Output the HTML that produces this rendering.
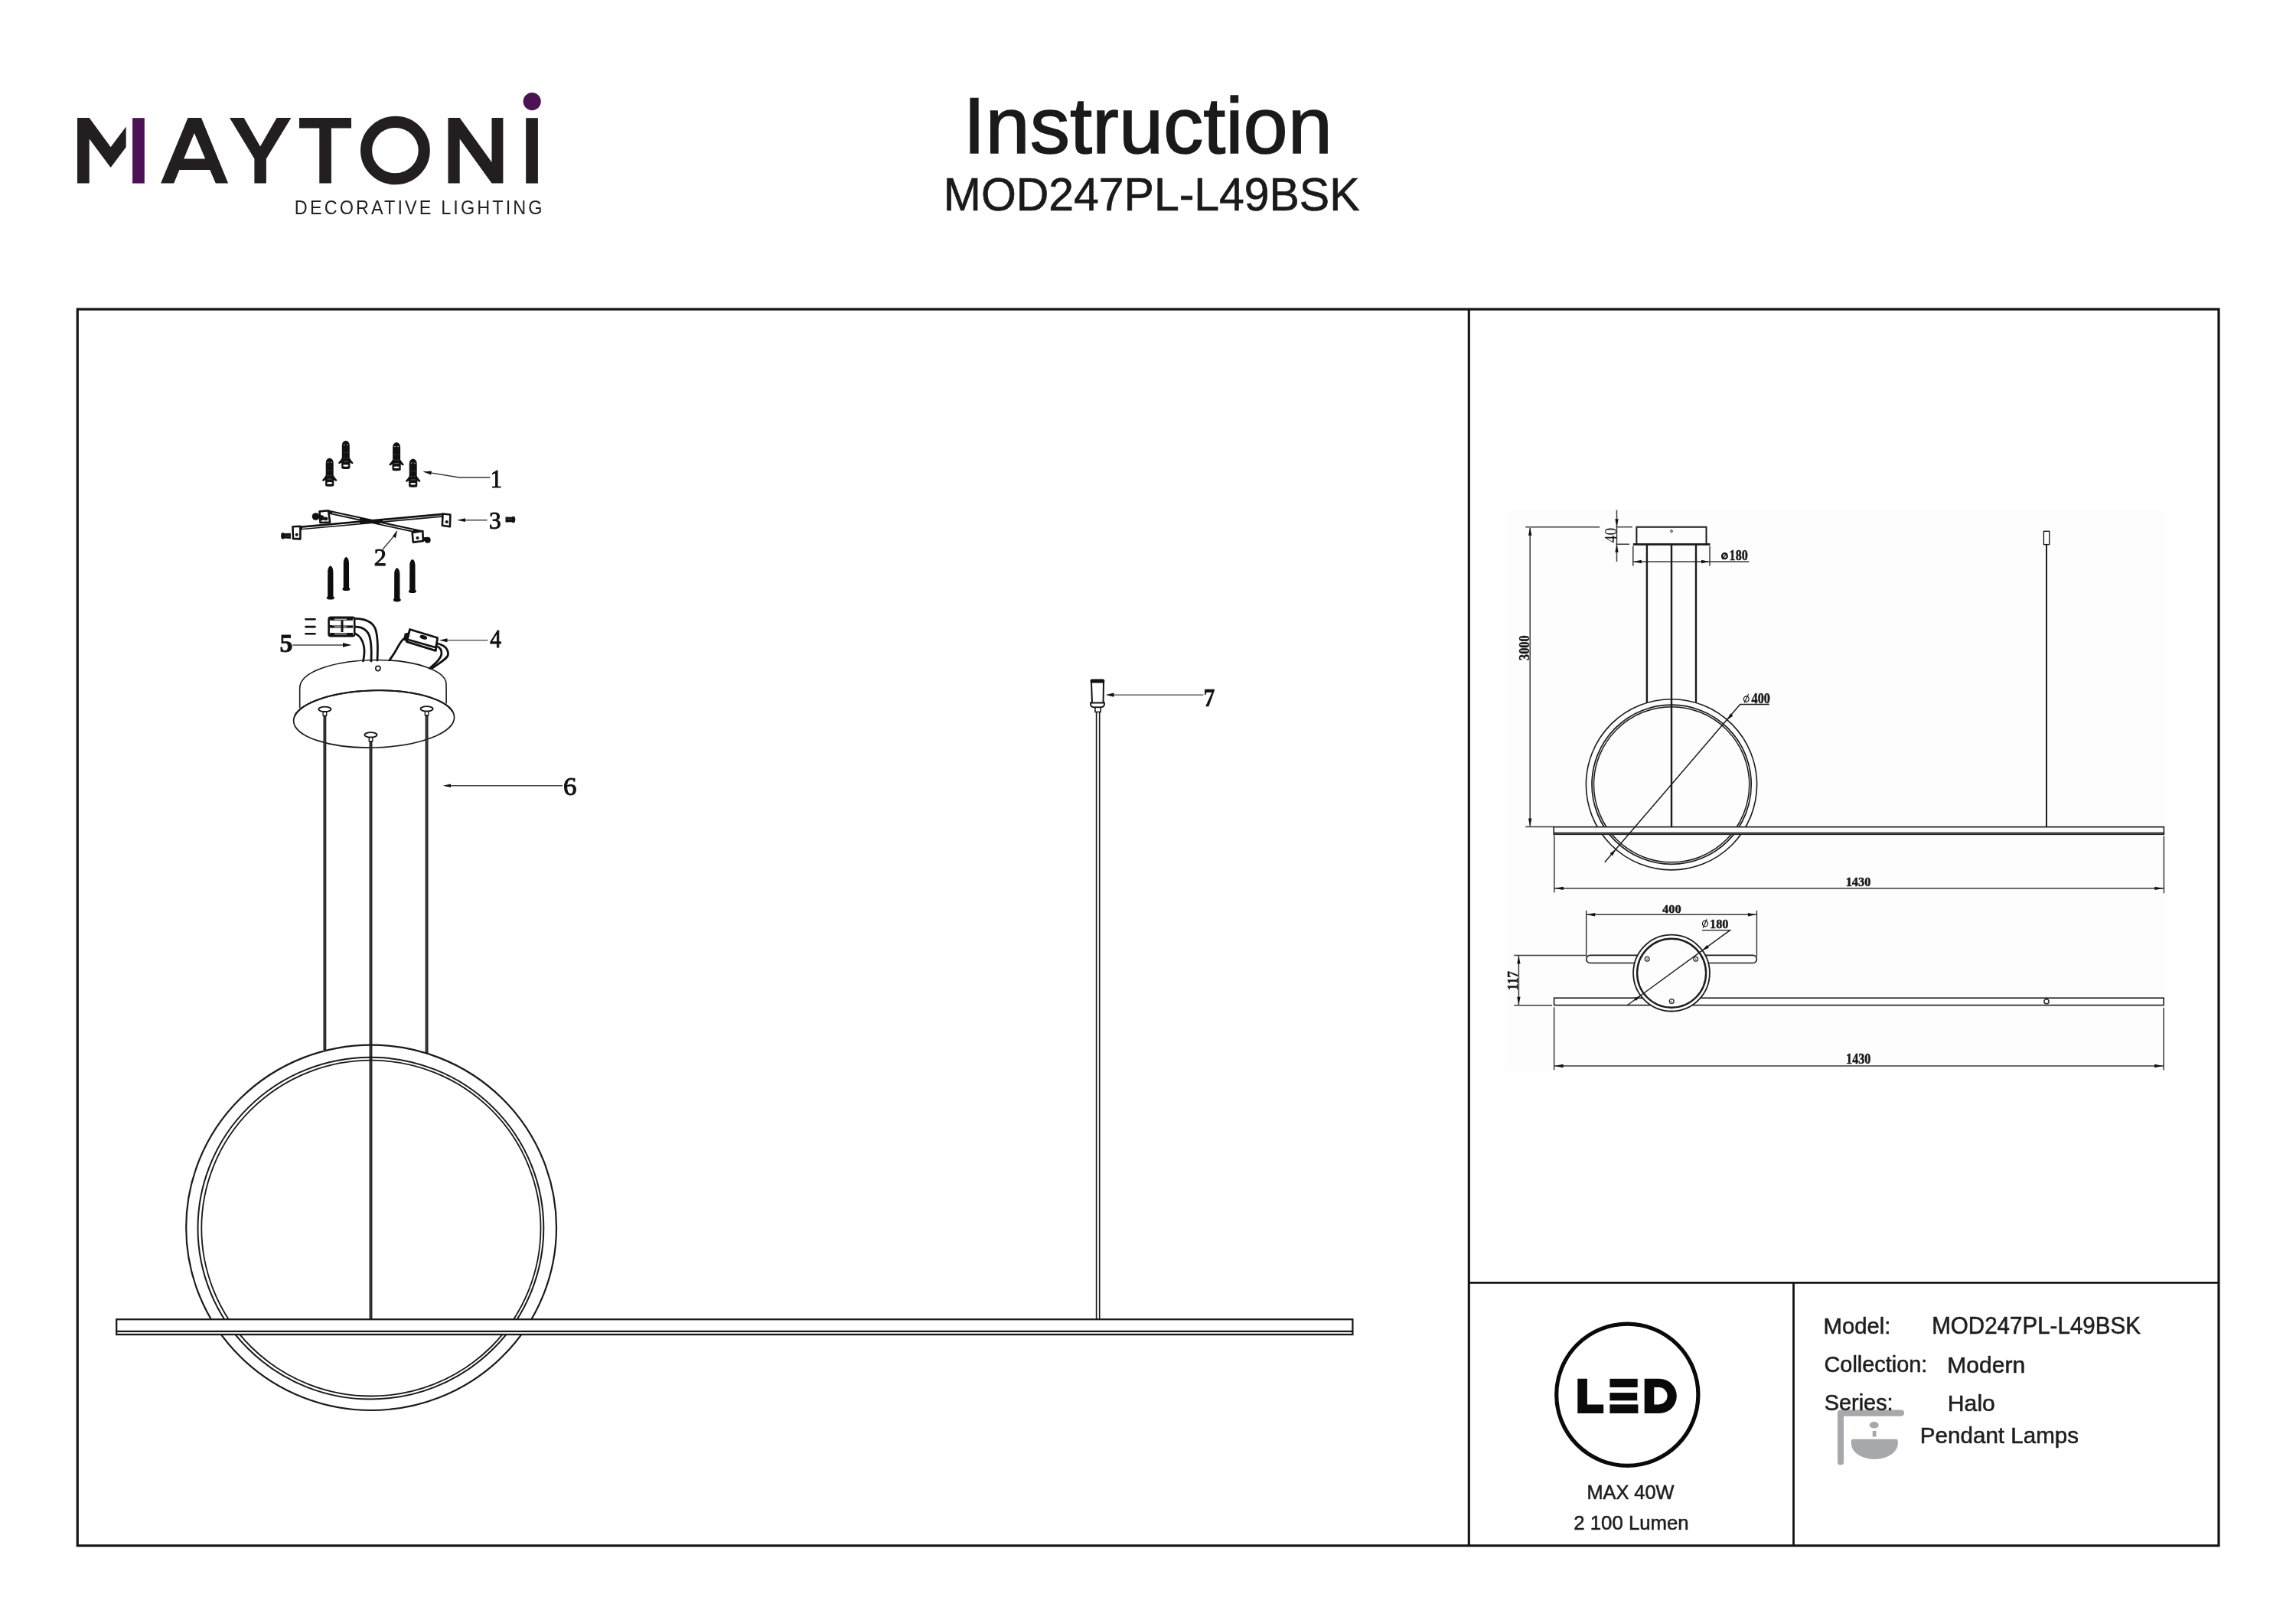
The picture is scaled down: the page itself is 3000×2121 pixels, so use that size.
<!DOCTYPE html>
<html><head><meta charset="utf-8"><title>Instruction MOD247PL-L49BSK</title>
<style>html,body{margin:0;padding:0;background:#fff;width:3000px;height:2121px;overflow:hidden}
svg{display:block;font-family:"Liberation Sans",sans-serif;will-change:transform}</style></head>
<body><svg width="3000" height="2121" viewBox="0 0 3000 2121">
<rect width="3000" height="2121" fill="#ffffff"/>
<g id="logo">
<polygon points="101.0,153.9 116.7,153.9 144.6,192.3 164.7,165.6 164.7,192.3 144.6,219.0 116.7,181.6 116.7,239.6 101.0,239.6" fill="#231f20"/>
<rect x="173.1" y="154.2" width="15.7" height="85.4" fill="#4b1254"/>
<path d="M210.1,239.6 L245.5,153.9 L263.0,153.9 L298.1,239.6 L281.8,239.6 L274.3,222 L234.4,222 L227.2,239.6 Z M253.9,174 L268.2,207.6 L240.2,207.6 Z" fill="#231f20" fill-rule="evenodd"/>
<polygon points="300.0,153.9 318.7,153.9 340.0,191.6 361.6,153.9 380.4,153.9 347.9,207.6 347.9,239.6 332.4,239.6 332.4,207.6" fill="#231f20"/>
<polygon points="391.0,153.9 459.0,153.9 459.0,167.6 432.9,167.6 432.9,239.6 417.3,239.6 417.3,167.6 391.0,167.6" fill="#231f20"/>
<ellipse cx="516.4" cy="196.6" rx="37.85" ry="37.2" fill="none" stroke="#231f20" stroke-width="15.1"/>
<polygon points="585.5,153.9 600.7,153.9 642.5,212.1 642.5,153.9 657.4,153.9 657.4,239.6 642.5,239.6 600.7,181.6 600.7,239.6 585.5,239.6" fill="#231f20"/>
<rect x="687.2" y="154.2" width="15.7" height="85.4" fill="#231f20"/>
<circle cx="695.2" cy="132.6" r="11.6" fill="#4b1254"/>
<text transform="scale(0.94,1)" x="409.44" y="279.7" font-family="Liberation Sans" font-size="25.00" textLength="344.45" lengthAdjust="spacing" fill="#231f20">DECORATIVE LIGHTING</text>
</g>
<text x="1258.55" y="200.30" font-family="Liberation Sans" font-weight="normal" font-size="103.63" textLength="482.34" lengthAdjust="spacingAndGlyphs" fill="#1a1a1a" stroke="#1a1a1a" stroke-width="1.5" stroke-linejoin="miter">Instruction</text>
<text x="1232.87" y="274.80" font-family="Liberation Sans" font-weight="normal" font-size="61.34" textLength="543.59" lengthAdjust="spacingAndGlyphs" fill="#1a1a1a" stroke="#1a1a1a" stroke-width="0.7">MOD247PL-L49BSK</text>
<rect x="101.25" y="404.1" width="2797.75" height="1615.85" fill="none" stroke="#141414" stroke-width="3.2"/>
<line x1="1919.3" y1="404" x2="1919.3" y2="2020" stroke="#141414" stroke-width="3.1"/>
<line x1="1919" y1="1676.4" x2="2899" y2="1676.4" stroke="#141414" stroke-width="2.8"/>
<line x1="2343.5" y1="1676.4" x2="2343.5" y2="2020" stroke="#141414" stroke-width="2.8"/>
<defs>
<g id="plug">
  <path d="M-5,7 C-5,2 -2.8,0 0,0 C2.8,0 5,2 5,7 L5,27 L-5,27 Z" fill="#111"/>
  <path d="M-5,22.5 C-6.5,25 -8.5,27 -9.5,28.5 C-9.8,29.6 -9,30.4 -8,30 L-5.5,28.6 L5.5,28.6 L8,30 C9,30.4 9.8,29.6 9.5,28.5 C8.5,27 6.5,25 5,22.5 Z" fill="#111"/>
  <path d="M-5.6,28 L5.6,28 L5.6,35.8 C5.6,37.6 -5.6,37.6 -5.6,35.8 Z" fill="#111"/>
  <ellipse cx="0" cy="32.6" rx="3.6" ry="1.3" fill="#fff"/>
  <rect x="-3" y="5" width="1.8" height="0.9" fill="#ccc"/><rect x="1.2" y="5" width="1.8" height="0.9" fill="#ccc"/>
  <rect x="-3" y="15.5" width="1.8" height="0.7" fill="#777"/><rect x="1.2" y="15.5" width="1.8" height="0.7" fill="#777"/>
  <rect x="-3" y="22.5" width="1.8" height="0.7" fill="#777"/><rect x="1.2" y="22.5" width="1.8" height="0.7" fill="#777"/>
  <rect x="-3" y="27" width="6" height="0.6" fill="#999"/>
</g>
<g id="screw">
  <path d="M-3.6,8 C-3.6,3 -1.5,0 0,0 C1.5,0 3.6,3 3.6,8 L3.7,40.5 L-3.7,40.5 Z" fill="#0d0d0d"/>
  <ellipse cx="0" cy="41.8" rx="5" ry="2.3" fill="#0d0d0d"/>
</g>
<g id="bolt">
  <path d="M0,-3.6 L9,-3.2 L9,3.2 L0,3.6 Z" fill="#111"/>
  <ellipse cx="10.2" cy="0" rx="2.6" ry="4.2" fill="#111"/>
  <rect x="1" y="-0.6" width="7" height="0.5" fill="#777"/>
</g>
<marker id="ah" viewBox="0 0 10 6" refX="0" refY="3" markerWidth="10" markerHeight="6" markerUnits="userSpaceOnUse" orient="auto-start-reverse">
  <path d="M0,3 L10,0 L10,6 Z" fill="#111"/>
</marker>
</defs>
<use href="#plug" x="430.7" y="598.7"/>
<use href="#plug" x="451.8" y="575.9"/>
<use href="#plug" x="518.1" y="578.2"/>
<use href="#plug" x="539.7" y="599.7"/>
<path d="M553.5,616.4 L600,624 L640.4,624" fill="none" stroke="#333" stroke-width="1.4"/>
<path d="M553.5,616.4 L564,615.6 L563,620.6 Z" fill="#111"/>
<path d="M383,688.3 L579,670.6 L579,675.8 L392.4,692.6 Z" fill="#111"/>
<path d="M395,690.3 L470,683.5" stroke="#fff" stroke-width="1.0"/>
<path d="M500,680.8 L577,673.8" stroke="#fff" stroke-width="0.9" opacity="0.85"/>
<path d="M429,666.6 L552.3,693.2 L552.5,698.4 L431,672 Z" fill="#111"/>
<path d="M434,670.3 L470,678" stroke="#fff" stroke-width="1.1"/>
<path d="M496,684 L540,693.3" stroke="#fff" stroke-width="1"/>
<polygon points="417.5,668.4 429,667.3 431.1,682.5 418.5,683" fill="#fff" stroke="#111" stroke-width="2.6" stroke-linejoin="round"/>
<circle cx="423.8" cy="677.8" r="2" fill="#111"/>
<polygon points="538.7,696 552.3,694 552.9,707 539.8,708.6" fill="#fff" stroke="#111" stroke-width="2.6" stroke-linejoin="round"/>
<circle cx="545.5" cy="702.9" r="2" fill="#111"/>
<polygon points="382.5,688.2 392.4,687.7 392.4,704.4 383,703.9" fill="#fff" stroke="#111" stroke-width="2.6" stroke-linejoin="round"/>
<circle cx="387.7" cy="698.7" r="2" fill="#111"/>
<polygon points="578.5,671.5 588.4,672.5 587.9,688.2 577.9,686.7" fill="#fff" stroke="#111" stroke-width="2.6" stroke-linejoin="round"/>
<circle cx="583.7" cy="682" r="2" fill="#111"/>
<g transform="translate(379.9,700.3) rotate(180)"><use href="#bolt"/></g>
<g transform="translate(660.5,679) "><use href="#bolt"/></g>
<circle cx="412.5" cy="675" r="4.8" fill="#111"/><circle cx="420" cy="676.8" r="3.5" fill="#111"/><circle cx="426" cy="678" r="2.4" fill="#111"/>
<circle cx="558.7" cy="705.7" r="4" fill="#111"/><circle cx="555" cy="704.5" r="2.6" fill="#111"/>
<path d="M500,718 L516,699" stroke="#333" stroke-width="1.3"/>
<path d="M519.4,695.6 L513.2,703.6 L516.9,706.2 Z" fill="#111" transform="translate(0,-3)"/>
<path d="M607,679.7 L636.6,679.7" stroke="#333" stroke-width="1.4"/>
<path d="M597,679.7 L608,677.3 L608,682.1 Z" fill="#111"/>
<use href="#screw" x="431.8" y="739.5"/>
<use href="#screw" x="452.4" y="727.9"/>
<use href="#screw" x="518.8" y="742.3"/>
<use href="#screw" x="538.9" y="731"/>
<rect x="429.6" y="806.8" width="33.6" height="24.4" rx="2.5" fill="#fff" stroke="#111" stroke-width="2.6"/>
<rect x="433" y="807.6" width="28" height="3.2" fill="#111"/><rect x="437" y="808.7" width="16" height="1" fill="#fff"/>
<rect x="433" y="817.4" width="28" height="3.2" fill="#111"/><rect x="437" y="818.5" width="16" height="1" fill="#fff"/>
<rect x="433" y="827.0" width="28" height="3.2" fill="#111"/><rect x="437" y="828.1" width="16" height="1" fill="#fff"/>
<rect x="445.5" y="811" width="3" height="15" fill="#111"/>
<circle cx="432.6" cy="809.2" r="1.8" fill="#111"/><circle cx="432.6" cy="828.6" r="1.8" fill="#111"/>
<circle cx="432.2" cy="818.8" r="2" fill="#111"/>
<line x1="399.5" y1="809.2" x2="411.5" y2="809.2" stroke="#111" stroke-width="2.6" stroke-linecap="round"/>
<line x1="399.5" y1="819.1" x2="411.5" y2="819.1" stroke="#111" stroke-width="2.6" stroke-linecap="round"/>
<line x1="399.5" y1="828.2" x2="411.5" y2="828.2" stroke="#111" stroke-width="2.6" stroke-linecap="round"/>
<path d="M464,808.3 C478,808.6 487,812.5 490.5,822 C494,832 493.8,848 493,863" fill="none" stroke="#111" stroke-width="2.8" stroke-linecap="round"/>
<path d="M464,819.1 C474,819 480,823 483,832 C486,842 485.5,852 485,864" fill="none" stroke="#111" stroke-width="2.8" stroke-linecap="round"/>
<path d="M464,828 C470,830.5 474,836 475.5,845 C477,853 475.8,858 474.5,864" fill="none" stroke="#111" stroke-width="2.8" stroke-linecap="round"/>
<path d="M382.5,842.9 L449,842.9" stroke="#444" stroke-width="1.5"/>
<path d="M459.5,842.9 L448,840 L448,845.8 Z" fill="#111"/>
<path d="M535.5,822.5 L571.6,833.5 L569.3,850.4 L531.4,838.6 Z" fill="#fff" stroke="#111" stroke-width="2.8" stroke-linejoin="round"/>
<path d="M533.5,836 L570.5,846.5" stroke="#111" stroke-width="2.6"/>
<path d="M528.5,828 L535.5,826 L533,838.5 L527.5,837 Z" fill="#111"/>
<ellipse cx="553.3" cy="832.8" rx="5" ry="2.6" fill="#111" transform="rotate(17 553.3 832.8)"/>
<path d="M528.2,834 C523,838 520,846 515.5,853 C512.5,858 510,861 508.8,862.8" fill="none" stroke="#111" stroke-width="2.8" stroke-linecap="round" stroke-width="2.4"/>
<path d="M571.5,841 C580,843 585.5,848 585.5,855 C585.5,860 575,866 564,873.7" fill="none" stroke="#111" stroke-width="2.8" stroke-linecap="round" stroke-width="2.4"/>
<path d="M569.8,844 C575,846 577.5,850 576.8,855 C576,861 568,868 561.5,873.3" fill="none" stroke="#111" stroke-width="2.8" stroke-linecap="round" stroke-width="2.4"/>
<path d="M583,836.6 L637.5,836.6" stroke="#444" stroke-width="1.4"/>
<path d="M573.9,836.7 L584.5,834.2 L584.5,839.2 Z" fill="#111"/>
<path d="M391.7,925.3 L391.7,899.1 C391.7,877 440,862.5 493.3,862.5 C543,862.5 583,876.5 583,893.9 L583.2,919.5" fill="none" stroke="#1a1a1a" stroke-width="1.6"/>
<circle cx="493.9" cy="873.5" r="3.1" fill="none" stroke="#1a1a1a" stroke-width="1.6"/>
<ellipse cx="488.6" cy="939.65" rx="105" ry="37.35" transform="rotate(-1.4 488.6 939.65)" fill="#fff" stroke="#1a1a1a" stroke-width="1.7"/>
<polyline points="385.7,934.4 386.8,932.7 388.1,931.1 389.5,929.4 391.2,927.8 393.1,926.2 395.2,924.6 397.4,923.1 399.9,921.6 402.5,920.1 405.3,918.7 408.3,917.3 411.5,916.0 414.8,914.7 418.2,913.4 421.8,912.2 425.6,911.1 429.4,910.0 433.4,909.0 437.6,908.1 441.8,907.2 446.1,906.4 450.5,905.7 454.9,905.0 459.5,904.4 464.1,903.8 468.8,903.4 473.5,903.0 478.2,902.7 482.9,902.5 487.7,902.3 492.5,902.2 497.2,902.2 501.9,902.3 506.7,902.5 511.3,902.7 515.9,903.0 520.5,903.4 525.0,903.8 529.5,904.4 533.8,905.0 538.0,905.6 542.2,906.4 546.2,907.2 550.2,908.1 553.9,909.0 557.6,910.0 561.1,911.1 564.5,912.2 567.7,913.4 570.8,914.6 573.6,915.9 576.3,917.3 578.9,918.7 581.2,920.1 583.3,921.5 585.3,923.0 587.1,924.6 588.6,926.2 589.9,927.8 591.1,929.4" fill="none" stroke="#1a1a1a" stroke-width="2.1" stroke-linecap="round"/>
<line x1="424.4" y1="934.8" x2="424.4" y2="1372" stroke="#161616" stroke-width="3.8"/>
<line x1="424.59999999999997" y1="936.8" x2="424.59999999999997" y2="1371" stroke="#5a5a5a" stroke-width="1.0"/>
<rect x="422.09999999999997" y="929.8" width="4.6" height="5.5" fill="#fff" stroke="#111" stroke-width="1.3"/>
<ellipse cx="424.4" cy="926.8" rx="8.2" ry="3.2" fill="#fff" stroke="#111" stroke-width="1.8"/>
<line x1="484.5" y1="968.3" x2="484.5" y2="1723.9" stroke="#161616" stroke-width="3.8"/>
<line x1="484.7" y1="970.3" x2="484.7" y2="1722.9" stroke="#5a5a5a" stroke-width="1.0"/>
<rect x="482.2" y="963.3" width="4.6" height="5.5" fill="#fff" stroke="#111" stroke-width="1.3"/>
<ellipse cx="484.5" cy="960.3" rx="8.2" ry="3.2" fill="#fff" stroke="#111" stroke-width="1.8"/>
<line x1="557.6" y1="934.3" x2="557.6" y2="1375.9" stroke="#161616" stroke-width="3.8"/>
<line x1="557.8000000000001" y1="936.3" x2="557.8000000000001" y2="1374.9" stroke="#5a5a5a" stroke-width="1.0"/>
<rect x="555.3000000000001" y="929.3" width="4.6" height="5.5" fill="#fff" stroke="#111" stroke-width="1.3"/>
<ellipse cx="557.6" cy="926.3" rx="8.2" ry="3.2" fill="#fff" stroke="#111" stroke-width="1.8"/>
<path d="M586,1026.7 L735.2,1026.7" stroke="#444" stroke-width="1.5"/>
<path d="M578.7,1026.7 L589,1024.4 L589,1029 Z" fill="#111"/>
<rect x="1432.6" y="930" width="4.1" height="794" fill="#fff" stroke="#161616" stroke-width="1.6"/>
<path d="M1426,891 L1442,891 L1441.5,919 L1427,919 Z" fill="#fff" stroke="#111" stroke-width="2"/>
<rect x="1424.4" y="887.4" width="19" height="5" rx="2.5" fill="#111"/>
<path d="M1425,918.5 L1443,918.5 C1443.5,922.5 1441,924 1439,924.3 L1429,924.3 C1427,924 1424.5,922.5 1425,918.5 Z" fill="#fff" stroke="#111" stroke-width="1.8"/>
<rect x="1431" y="924.4" width="7.2" height="6" fill="#fff" stroke="#111" stroke-width="1.5"/>
<path d="M1453,908.1 L1572.5,908.1" stroke="#444" stroke-width="1.4"/>
<path d="M1444.6,908.1 L1455.5,905.5 L1455.5,910.7 Z" fill="#111"/>
<ellipse cx="485.1" cy="1604.3" rx="241.9" ry="238.7" fill="none" stroke="#1a1a1a" stroke-width="2.2"/>
<ellipse cx="484.4" cy="1605.1" rx="225.9" ry="223.4" fill="none" stroke="#1a1a1a" stroke-width="2.0"/>
<ellipse cx="484.9" cy="1605.1" rx="221.6" ry="219.4" fill="none" stroke="#1a1a1a" stroke-width="1.8"/>
<rect x="152.2" y="1724.2" width="1615.2" height="19.8" fill="#fff" stroke="#1a1a1a" stroke-width="2.3"/>
<line x1="152.2" y1="1739.9" x2="1767.4" y2="1739.9" stroke="#1a1a1a" stroke-width="2.2"/>
<text x="640.73" y="637.00" font-family="Liberation Serif" font-weight="normal" font-size="33.48" textLength="15.20" lengthAdjust="spacingAndGlyphs" fill="#111" stroke="#111" stroke-width="1.0">1</text>
<text x="638.89" y="691.00" font-family="Liberation Serif" font-weight="normal" font-size="32.02" textLength="15.74" lengthAdjust="spacingAndGlyphs" fill="#111" stroke="#111" stroke-width="1.0">3</text>
<text x="488.77" y="739.00" font-family="Liberation Serif" font-weight="normal" font-size="30.96" textLength="16.21" lengthAdjust="spacingAndGlyphs" fill="#111" stroke="#111" stroke-width="1.0">2</text>
<text x="640.13" y="845.70" font-family="Liberation Serif" font-weight="normal" font-size="32.97" textLength="14.63" lengthAdjust="spacingAndGlyphs" fill="#111" stroke="#111" stroke-width="1.0">4</text>
<text x="365.44" y="852.10" font-family="Liberation Serif" font-weight="bold" font-size="34.21" textLength="17.01" lengthAdjust="spacingAndGlyphs" fill="#111" stroke="#111" stroke-width="0.8">5</text>
<text x="736.10" y="1039.40" font-family="Liberation Serif" font-weight="normal" font-size="33.83" textLength="17.44" lengthAdjust="spacingAndGlyphs" fill="#111" stroke="#111" stroke-width="1.0">6</text>
<text x="1572.49" y="922.90" font-family="Liberation Serif" font-weight="bold" font-size="32.99" textLength="14.94" lengthAdjust="spacingAndGlyphs" fill="#111" stroke="#111" stroke-width="0.6">7</text>
<rect x="1968" y="666" width="861" height="733" fill="#fdfdfd"/>
<line x1="1993.3" y1="688.7" x2="2090.3" y2="688.7" stroke="#3a3a3a" stroke-width="1.5"/>
<line x1="1993.3" y1="1080.6" x2="2030.2" y2="1080.6" stroke="#3a3a3a" stroke-width="1.5"/>
<line x1="1999.2" y1="690" x2="1999.2" y2="1079.5" stroke="#3a3a3a" stroke-width="1.5"/>
<path d="M1999.20,689.20 L2001.40,699.70 L1997.00,699.70 Z" fill="#111"/>
<path d="M1999.20,1080.10 L1997.00,1069.60 L2001.40,1069.60 Z" fill="#111"/>
<g transform="translate(1991.50,846.70) rotate(-90)"><text x="-16.31" y="6.50" font-family="Liberation Serif" font-weight="bold" font-size="19.55" textLength="32.63" lengthAdjust="spacingAndGlyphs" fill="#111" stroke="#111" stroke-width="0.45">3000</text></g>
<line x1="2112.5" y1="666.5" x2="2112.5" y2="734" stroke="#3a3a3a" stroke-width="1.5"/>
<path d="M2112.50,688.70 L2110.30,678.20 L2114.70,678.20 Z" fill="#111"/>
<path d="M2112.50,711.20 L2114.70,721.70 L2110.30,721.70 Z" fill="#111"/>
<line x1="2111.6" y1="688.7" x2="2132.8" y2="688.7" stroke="#3a3a3a" stroke-width="1.5"/>
<line x1="2111.6" y1="711.2" x2="2129" y2="711.2" stroke="#3a3a3a" stroke-width="1.5"/>
<g transform="translate(2104.20,699.75) rotate(-90)"><text x="-9.63" y="7.40" font-family="Liberation Serif" font-weight="normal" font-size="22.25" textLength="19.63" lengthAdjust="spacingAndGlyphs" fill="#111">40</text></g>
<path d="M2138.4,711.2 L2138.4,688.7 L2229.5,688.7 L2229.5,711.2" fill="none" stroke="#1c1c1c" stroke-width="2"/>
<line x1="2133.8" y1="711.4" x2="2234.5" y2="711.4" stroke="#1c1c1c" stroke-width="2.6"/>
<circle cx="2184" cy="694.2" r="1.4" fill="none" stroke="#1c1c1c" stroke-width="1"/>
<line x1="2133.8" y1="713.6" x2="2133.8" y2="739.5" stroke="#3a3a3a" stroke-width="1.5"/>
<line x1="2234" y1="713.6" x2="2234" y2="739.5" stroke="#3a3a3a" stroke-width="1.5"/>
<line x1="2133.8" y1="734" x2="2285.3" y2="734" stroke="#3a3a3a" stroke-width="1.5"/>
<path d="M2134.30,734.00 L2144.80,731.80 L2144.80,736.20 Z" fill="#111"/>
<path d="M2233.50,734.00 L2223.00,736.20 L2223.00,731.80 Z" fill="#111"/>
<ellipse cx="2253.4" cy="726.7" rx="3.4" ry="3.5" fill="none" stroke="#111" stroke-width="2.2"/><line x1="2250" y1="730.5" x2="2256.5" y2="723" stroke="#111" stroke-width="1.2"/>
<text x="2259.61" y="731.70" font-family="Liberation Serif" font-weight="bold" font-size="18.50" textLength="24.10" lengthAdjust="spacingAndGlyphs" fill="#1a1a1a" stroke="#111" stroke-width="0.45">180</text>
<line x1="2151.9" y1="712" x2="2151.9" y2="918" stroke="#1c1c1c" stroke-width="2.4"/>
<line x1="2216" y1="712" x2="2216" y2="918" stroke="#1c1c1c" stroke-width="2.4"/>
<line x1="2184" y1="712" x2="2184" y2="1080.6" stroke="#1c1c1c" stroke-width="2.4"/>
<circle cx="2184" cy="1025.3" r="111.6" fill="none" stroke="#1c1c1c" stroke-width="1.6"/>
<circle cx="2184.1" cy="1025.25" r="104.1" fill="none" stroke="#1c1c1c" stroke-width="1.7"/>
<circle cx="2184.1" cy="1025.25" r="101.6" fill="none" stroke="#1c1c1c" stroke-width="1.5"/>
<rect x="2030.2" y="1080.7" width="797.2" height="9.6" fill="#fdfdfd" stroke="#1c1c1c" stroke-width="1.6"/>
<line x1="2030.2" y1="1088.6" x2="2827.4" y2="1088.6" stroke="#1c1c1c" stroke-width="1.8"/>
<rect x="2670.4" y="694.3" width="7.3" height="17.3" fill="#fff" stroke="#1c1c1c" stroke-width="1.4"/>
<line x1="2674" y1="711.6" x2="2674" y2="1080.6" stroke="#1c1c1c" stroke-width="2"/>
<path d="M2096.8,1126.8 L2273.6,920.6 L2311.7,920.6" fill="none" stroke="#1c1c1c" stroke-width="1.5"/>
<path d="M2256.80,940.70 L2260.93,932.38 L2264.41,935.38 Z" fill="#111"/>
<path d="M2111.20,1109.90 L2107.07,1118.22 L2103.59,1115.22 Z" fill="#111"/>
<ellipse cx="2281.8" cy="913.6" rx="3.4" ry="3.7" fill="none" stroke="#111" stroke-width="1.2"/><line x1="2279.2" y1="918.3" x2="2284.7" y2="907" stroke="#111" stroke-width="1.1"/>
<text x="2288.58" y="918.50" font-family="Liberation Serif" font-weight="bold" font-size="18.65" textLength="24.34" lengthAdjust="spacingAndGlyphs" fill="#1a1a1a" stroke="#111" stroke-width="0.45">400</text>
<line x1="2030.8" y1="1091.6" x2="2030.8" y2="1166.5" stroke="#3a3a3a" stroke-width="1.5"/>
<line x1="2827.4" y1="1092.5" x2="2827.4" y2="1167.3" stroke="#3a3a3a" stroke-width="1.5"/>
<line x1="2030.8" y1="1160.9" x2="2827.4" y2="1160.9" stroke="#3a3a3a" stroke-width="1.5"/>
<path d="M2031.30,1160.90 L2042.80,1158.70 L2042.80,1163.10 Z" fill="#111"/>
<path d="M2826.90,1160.90 L2815.40,1163.10 L2815.40,1158.70 Z" fill="#111"/>
<text x="2411.69" y="1158.30" font-family="Liberation Serif" font-weight="bold" font-size="16.54" textLength="32.73" lengthAdjust="spacingAndGlyphs" fill="#1a1a1a" stroke="#111" stroke-width="0.45">1430</text>
<line x1="2072.7" y1="1190" x2="2072.7" y2="1250" stroke="#3a3a3a" stroke-width="1.5"/>
<line x1="2295.4" y1="1190" x2="2295.4" y2="1250" stroke="#3a3a3a" stroke-width="1.5"/>
<line x1="2072.7" y1="1195.3" x2="2295.4" y2="1195.3" stroke="#3a3a3a" stroke-width="1.5"/>
<path d="M2073.20,1195.30 L2084.20,1193.10 L2084.20,1197.50 Z" fill="#111"/>
<path d="M2294.90,1195.30 L2283.90,1197.50 L2283.90,1193.10 Z" fill="#111"/>
<text x="2171.98" y="1192.60" font-family="Liberation Serif" font-weight="bold" font-size="15.64" textLength="24.65" lengthAdjust="spacingAndGlyphs" fill="#1a1a1a" stroke="#111" stroke-width="0.45">400</text>
<rect x="2072.7" y="1248.4" width="222.7" height="10.1" rx="5" fill="#fdfdfd" stroke="#1c1c1c" stroke-width="1.6"/>
<line x1="1978.3" y1="1248.4" x2="2072.7" y2="1248.4" stroke="#3a3a3a" stroke-width="1.5"/>
<line x1="1978.3" y1="1313.7" x2="2028" y2="1313.7" stroke="#3a3a3a" stroke-width="1.5"/>
<line x1="1984.4" y1="1249" x2="1984.4" y2="1313" stroke="#3a3a3a" stroke-width="1.5"/>
<path d="M1984.40,1248.90 L1986.60,1259.40 L1982.20,1259.40 Z" fill="#111"/>
<path d="M1984.40,1313.20 L1982.20,1302.70 L1986.60,1302.70 Z" fill="#111"/>
<g transform="translate(1976.10,1281.05) rotate(-90)"><text x="-13.10" y="6.50" font-family="Liberation Serif" font-weight="bold" font-size="19.69" textLength="25.26" lengthAdjust="spacingAndGlyphs" fill="#111" stroke="#111" stroke-width="0.45">117</text></g>
<rect x="2030.6" y="1304.2" width="796.5" height="9.4" fill="#fdfdfd" stroke="#1c1c1c" stroke-width="1.6"/>
<circle cx="2674" cy="1308.8" r="3.1" fill="none" stroke="#1c1c1c" stroke-width="1.4"/>
<circle cx="2184" cy="1271.6" r="49.9" fill="#fdfdfd" stroke="#1c1c1c" stroke-width="1.8"/>
<circle cx="2184.1" cy="1271.7" r="45" fill="none" stroke="#1c1c1c" stroke-width="2.4"/>
<circle cx="2152.2" cy="1253.3" r="2.9" fill="none" stroke="#1c1c1c" stroke-width="1.2"/><circle cx="2152.2" cy="1253.3" r="0.8" fill="#1c1c1c"/>
<circle cx="2215.7" cy="1253.3" r="2.9" fill="none" stroke="#1c1c1c" stroke-width="1.2"/><circle cx="2215.7" cy="1253.3" r="0.8" fill="#1c1c1c"/>
<circle cx="2184.2" cy="1308.5" r="2.9" fill="none" stroke="#1c1c1c" stroke-width="1.2"/><circle cx="2184.2" cy="1308.5" r="0.8" fill="#1c1c1c"/>
<path d="M2224,1215.6 L2260.5,1215.6 L2125.5,1314.3" fill="none" stroke="#1c1c1c" stroke-width="1.4"/>
<path d="M2224.30,1242.20 L2230.27,1235.11 L2232.86,1238.66 Z" fill="#111"/>
<path d="M2143.70,1301.00 L2137.73,1308.09 L2135.14,1304.54 Z" fill="#111"/>
<ellipse cx="2228" cy="1207" rx="3.5" ry="3.8" fill="none" stroke="#111" stroke-width="1.2"/><line x1="2225.2" y1="1212.7" x2="2230.2" y2="1201.2" stroke="#111" stroke-width="1.1"/>
<text x="2234.10" y="1212.70" font-family="Liberation Serif" font-weight="bold" font-size="17.59" textLength="24.42" lengthAdjust="spacingAndGlyphs" fill="#1a1a1a" stroke="#111" stroke-width="0.45">180</text>
<line x1="2030.6" y1="1316.3" x2="2030.6" y2="1398.4" stroke="#3a3a3a" stroke-width="1.5"/>
<line x1="2827.1" y1="1316.8" x2="2827.1" y2="1398.5" stroke="#3a3a3a" stroke-width="1.5"/>
<line x1="2030.6" y1="1393" x2="2827.1" y2="1393" stroke="#3a3a3a" stroke-width="1.5"/>
<path d="M2031.10,1393.00 L2042.60,1390.80 L2042.60,1395.20 Z" fill="#111"/>
<path d="M2826.60,1393.00 L2815.10,1395.20 L2815.10,1390.80 Z" fill="#111"/>
<text x="2412.11" y="1390.20" font-family="Liberation Serif" font-weight="bold" font-size="18.04" textLength="32.31" lengthAdjust="spacingAndGlyphs" fill="#1a1a1a" stroke="#111" stroke-width="0.45">1430</text>
<circle cx="2126.3" cy="1822.7" r="92.6" fill="none" stroke="#0a0a0a" stroke-width="5.2"/>
<path d="M2061.3,1801.8 L2073.9,1801.8 L2073.9,1835.4 L2095.2,1835.4 L2095.2,1847 L2061.3,1847 Z" fill="#0a0a0a"/>
<rect x="2103.4" y="1801.8" width="36.3" height="11.2" fill="#0a0a0a"/>
<rect x="2103.4" y="1820.1" width="35.8" height="10.2" fill="#0a0a0a"/>
<rect x="2103.4" y="1835.4" width="37" height="11.6" fill="#0a0a0a"/>
<path d="M2148.7,1801.8 L2168.2,1801.8 A22.6,22.6 0 0 1 2168.2,1847 L2148.7,1847 Z M2161.3,1813 L2161.3,1835.4 L2167.4,1835.4 A11.2,11.2 0 0 0 2167.4,1813 Z" fill="#0a0a0a" fill-rule="evenodd"/>
<text x="2073.42" y="1958.80" font-family="Liberation Sans" font-weight="normal" font-size="25.73" textLength="113.96" lengthAdjust="spacingAndGlyphs" fill="#1e1e1e" stroke="#1e1e1e" stroke-width="0.55">MAX 40W</text>
<text x="2056.30" y="1998.70" font-family="Liberation Sans" font-weight="normal" font-size="26.02" textLength="150.37" lengthAdjust="spacingAndGlyphs" fill="#1e1e1e" stroke="#1e1e1e" stroke-width="0.55">2 100 Lumen</text>
<path d="M2405,1910.5 L2405,1846.6 L2484,1846.6" fill="none" stroke="#a7a8ab" stroke-width="8.1" stroke-linecap="round" stroke-linejoin="round"/>
<ellipse cx="2448.7" cy="1862.2" rx="6" ry="4.3" fill="#a7a8ab"/>
<rect x="2446.7" y="1869.9" width="4.8" height="7.6" fill="#a7a8ab"/>
<path d="M2421,1880.7 L2477.6,1880.7 Q2479.8,1880.7 2479.8,1883 L2479.8,1886 C2479.8,1898 2466,1906.9 2449.3,1906.9 C2432.6,1906.9 2418.8,1898 2418.8,1886 L2418.8,1883 Q2418.8,1880.7 2421,1880.7 Z" fill="#a7a8ab"/>
<text x="2382.60" y="1742.50" font-family="Liberation Sans" font-weight="normal" font-size="30.09" textLength="87.87" lengthAdjust="spacingAndGlyphs" fill="#1e1e1e" stroke="#1e1e1e" stroke-width="0.55">Model:</text>
<text x="2524.18" y="1743.20" font-family="Liberation Sans" font-weight="normal" font-size="30.81" textLength="272.76" lengthAdjust="spacingAndGlyphs" fill="#1e1e1e" stroke="#1e1e1e" stroke-width="0.55">MOD247PL-L49BSK</text>
<text x="2383.53" y="1793.20" font-family="Liberation Sans" font-weight="normal" font-size="28.86" textLength="134.80" lengthAdjust="spacingAndGlyphs" fill="#1e1e1e" stroke="#1e1e1e" stroke-width="0.55">Collection:</text>
<text x="2544.34" y="1794.00" font-family="Liberation Sans" font-weight="normal" font-size="29.07" textLength="101.81" lengthAdjust="spacingAndGlyphs" fill="#1e1e1e" stroke="#1e1e1e" stroke-width="0.55">Modern</text>
<text x="2383.69" y="1843.30" font-family="Liberation Sans" font-weight="normal" font-size="29.00" textLength="89.95" lengthAdjust="spacingAndGlyphs" fill="#1e1e1e" stroke="#1e1e1e" stroke-width="0.55">Series:</text>
<text x="2544.83" y="1844.20" font-family="Liberation Sans" font-weight="normal" font-size="29.36" textLength="62.04" lengthAdjust="spacingAndGlyphs" fill="#1e1e1e" stroke="#1e1e1e" stroke-width="0.55">Halo</text>
<text x="2508.87" y="1886.20" font-family="Liberation Sans" font-weight="normal" font-size="30.09" textLength="207.20" lengthAdjust="spacingAndGlyphs" fill="#1e1e1e" stroke="#1e1e1e" stroke-width="0.55">Pendant Lamps</text>
</svg></body></html>
